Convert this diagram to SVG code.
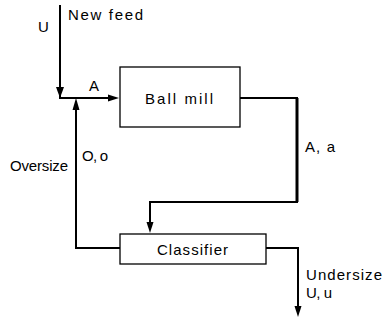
<svg xmlns="http://www.w3.org/2000/svg" width="383" height="320" viewBox="0 0 383 320">
<style>
.box{fill:#fff;stroke:#000;stroke-width:1.3}
.ln{fill:none;stroke:#000;stroke-width:2;stroke-linejoin:miter}
.ah{fill:#000}
text{font-family:"Liberation Sans",Arial,sans-serif;font-size:15px;fill:#000}
</style>
<rect width="383" height="320" fill="#fff"/>
<g id="connectors">
<path class="ln" d="M60,5 V98 H112"/>
<polygon class="ah" points="56,87 64,87 60,98"/>
<polygon class="ah" points="108,94.5 108,101.5 119,98"/>
<path class="ln" d="M120,248 H76 V108"/>
<polygon class="ah" points="72.5,110 79.5,110 76,98"/>
<path class="ln" d="M240,98 H297 V202 H150 V224"/>
<path fill="none" stroke="#000" stroke-width="3" d="M297,98 V202"/>
<polygon class="ah" points="146.5,222 153.5,222 150,233"/>
<path class="ln" d="M266,248 H298 V308"/>
<polygon class="ah" points="294.5,306 301.5,306 298,317"/>
</g>
<g id="ballmill">
<rect class="box" x="120" y="67" width="120" height="60"/>
<text x="145" y="104" textLength="68" lengthAdjust="spacing">Ball mill</text>
</g>
<g id="classifier">
<rect class="box" x="120" y="234" width="146" height="30"/>
<text x="157" y="255" textLength="71" lengthAdjust="spacing">Classifier</text>
</g>
<g id="labels">
<text x="38" y="32">U</text>
<text x="68" y="20" textLength="75" lengthAdjust="spacing">New feed</text>
<text x="89" y="91">A</text>
<text x="305" y="152" textLength="30" lengthAdjust="spacing">A, a</text>
<text x="82" y="161" textLength="26" lengthAdjust="spacing">O, o</text>
<text x="10" y="171" textLength="58" lengthAdjust="spacing">Oversize</text>
<text x="306" y="280" textLength="76" lengthAdjust="spacing">Undersize</text>
<text x="306" y="298" textLength="26" lengthAdjust="spacing">U, u</text>
</g>
</svg>
